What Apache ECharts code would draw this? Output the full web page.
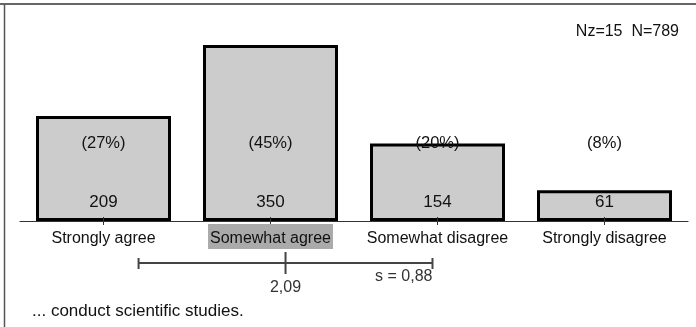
<!DOCTYPE html>
<html>
<head>
<meta charset="utf-8">
<style>
  html, body { margin: 0; padding: 0; background: #fff; }
  #chart { width: 696px; height: 327px; }
</style>
</head>
<body>
<div id="chart"></div>
<script src="https://cdn.jsdelivr.net/npm/echarts@6/dist/echarts.min.js"></script>
<script>
// data
var categories = ['Strongly agree', 'Somewhat agree', 'Somewhat disagree', 'Strongly disagree'];
var counts = [209, 350, 154, 61];
var percents = [27, 45, 20, 8];
var meanValue = 2.09;
var sdValue = 0.88;
var modeIndex = 1;
var nMissing = 15;
var nTotal = 789;
var questionText = '... conduct scientific studies.';

var font = 'Liberation Sans, Arial, sans-serif';
var textColor = '#111';

function fmt(v) {
    return v.toFixed(2).replace('.', ',');
}

var chart = echarts.init(document.getElementById('chart'), null, { renderer: 'canvas' });

var labelBox = { padding: [6, 2, 2, 2], height: 17, fontSize: 16, fontFamily: font, color: textColor };

chart.setOption({
    animation: false,
    backgroundColor: '#fff',
    grid: [
        { left: 20, right: 8, top: 45, height: 176 },
        { left: 20, right: 8, top: 253, height: 20 }
    ],
    xAxis: [
        {
            type: 'category',
            gridIndex: 0,
            data: categories,
            axisLine: { show: true, lineStyle: { color: '#333', width: 1.2 } },
            axisTick: { show: true, alignWithLabel: true, length: 4, lineStyle: { color: '#333' } },
            axisLabel: {
                interval: 0,
                margin: 3,
                fontSize: 16,
                fontFamily: font,
                color: textColor,
                formatter: function (v, i) {
                    return i === modeIndex ? '{hl|' + v + '}' : '{n|' + v + '}';
                },
                rich: {
                    n: labelBox,
                    hl: Object.assign({}, labelBox, { backgroundColor: '#aaaaaa' })
                }
            },
            z: 3
        },
        {
            // upward half of the ticks
            type: 'category',
            gridIndex: 0,
            data: categories,
            position: 'bottom',
            axisLine: { show: false },
            axisTick: { show: true, inside: true, alignWithLabel: true, length: 4, lineStyle: { color: '#333' } },
            axisLabel: { show: false },
            z: 3
        },
        {
            type: 'value',
            gridIndex: 1,
            min: 0.5,
            max: 4.5,
            show: false
        }
    ],
    yAxis: [
        { type: 'value', gridIndex: 0, min: 0, max: 350, show: false },
        { type: 'value', gridIndex: 1, min: 0, max: 1, show: false }
    ],
    series: [
        {
            type: 'bar',
            xAxisIndex: 0,
            yAxisIndex: 0,
            data: counts,
            barWidth: 135,
            itemStyle: { color: '#cccccc', borderColor: '#000', borderWidth: 3 },
            label: {
                show: true,
                position: 'insideBottom',
                distance: 10,
                fontSize: 17,
                fontFamily: font,
                color: textColor
            }
        },
        {
            // percentages sit at one fixed height across all bars
            type: 'custom',
            xAxisIndex: 0,
            yAxisIndex: 0,
            z: 5,
            data: percents.map(function (p, i) { return [i, p]; }),
            renderItem: function (params, api) {
                var x = api.coord([api.value(0), 0])[0];
                return {
                    type: 'text',
                    style: {
                        text: '(' + api.value(1) + '%)',
                        x: x,
                        y: params.coordSys.y + 98,
                        align: 'center',
                        verticalAlign: 'middle',
                        fontSize: 16.5,
                        fontFamily: font,
                        fill: textColor
                    }
                };
            }
        },
        {
            // mean and standard deviation
            type: 'custom',
            xAxisIndex: 2,
            yAxisIndex: 1,
            clip: false,
            data: [[meanValue, sdValue]],
            renderItem: function (params, api) {
                var m = api.value(0), s = api.value(1);
                var pl = api.coord([m - s, 0.5]);
                var pr = api.coord([m + s, 0.5]);
                var pm = api.coord([m, 0.5]);
                var ls = { stroke: '#444', lineWidth: 2 };
                return {
                    type: 'group',
                    children: [
                        { type: 'line', shape: { x1: pl[0], y1: pl[1], x2: pr[0], y2: pr[1] }, style: ls },
                        { type: 'line', shape: { x1: pl[0], y1: pl[1] - 5, x2: pl[0], y2: pl[1] + 6 }, style: ls },
                        { type: 'line', shape: { x1: pr[0], y1: pr[1] - 5, x2: pr[0], y2: pr[1] + 6 }, style: ls },
                        { type: 'line', shape: { x1: pm[0], y1: pm[1] - 11, x2: pm[0], y2: pm[1] + 11 }, style: ls },
                        {
                            type: 'text',
                            style: {
                                text: fmt(m), x: pm[0], y: pm[1] + 24.5,
                                align: 'center', verticalAlign: 'middle',
                                fontSize: 16, fontFamily: font, fill: '#333'
                            }
                        },
                        {
                            type: 'text',
                            style: {
                                text: 's = ' + fmt(s), x: pr[0], y: pr[1] + 13.5,
                                align: 'right', verticalAlign: 'middle',
                                fontSize: 16, fontFamily: font, fill: '#333'
                            }
                        }
                    ]
                };
            }
        }
    ],
    graphic: [
        { type: 'line', shape: { x1: 0, y1: 4, x2: 696, y2: 4 }, style: { stroke: '#333', lineWidth: 1.5 } },
        { type: 'line', shape: { x1: 4.5, y1: 4, x2: 4.5, y2: 327 }, style: { stroke: '#555', lineWidth: 1.5 } },
        {
            type: 'text', right: 17, top: 24,
            style: { text: 'Nz=' + nMissing + '  N=' + nTotal, fontSize: 16, fontFamily: font, fill: textColor }
        },
        {
            type: 'text', left: 32, top: 303,
            style: { text: questionText, fontSize: 17, fontFamily: font, fill: textColor }
        }
    ]
});
</script>
</body>
</html>
